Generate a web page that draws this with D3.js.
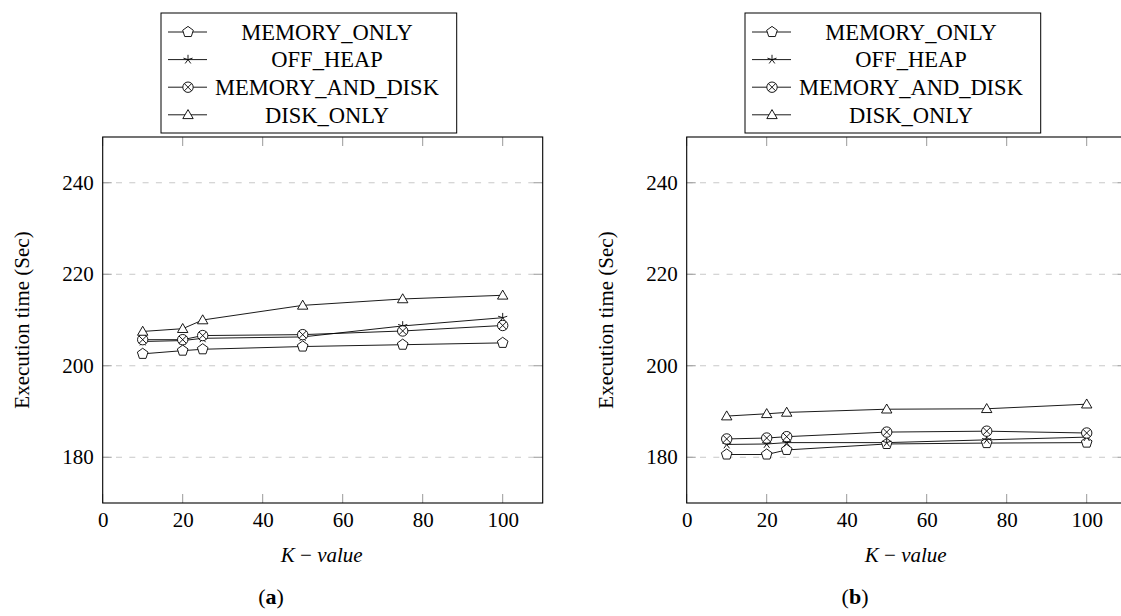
<!DOCTYPE html>
<html><head><meta charset="utf-8">
<script src="https://cdn.jsdelivr.net/npm/d3@7"></script>
<style>
html,body{margin:0;padding:0;background:#fff;}
svg{display:block;}
text{font-family:"Liberation Serif","DejaVu Serif",serif;fill:#000;}
</style></head>
<body>
<svg id="chart" width="1121" height="616"></svg>
<script>
const kValues = [10, 20, 25, 50, 75, 100];
const seriesNames = ["MEMORY_ONLY", "OFF_HEAP", "MEMORY_AND_DISK", "DISK_ONLY"];
const markerTypes = ["pentagon", "star", "otimes", "triangle"];
// Panel (a)
const a_memoryOnly   = [202.6, 203.3, 203.6, 204.2, 204.6, 205.0];
const a_offHeap      = [205.3, 205.5, 206.0, 206.3, 208.7, 210.5];
const a_memoryDisk   = [205.7, 205.7, 206.6, 206.8, 207.6, 208.8];
const a_diskOnly     = [207.5, 208.1, 210.0, 213.2, 214.6, 215.4];
// Panel (b)
const b_memoryOnly   = [180.6, 180.6, 181.6, 182.9, 183.1, 183.2];
const b_offHeap      = [182.8, 182.9, 183.2, 183.2, 183.8, 184.4];
const b_memoryDisk   = [184.0, 184.2, 184.5, 185.5, 185.7, 185.3];
const b_diskOnly     = [189.0, 189.5, 189.8, 190.5, 190.6, 191.6];
const xTicks = [0, 20, 40, 60, 80, 100];
const yTicks = [180, 200, 220, 240];
const xDomain = [0, 110];
const yDomain = [170, 250];
const yLabel = "Execution time (Sec)";
const panelLabels = ["a", "b"];

const panels = [
  {ox: 0, series: [a_memoryOnly, a_offHeap, a_memoryDisk, a_diskOnly], label: panelLabels[0]},
  {ox: 584, series: [b_memoryOnly, b_offHeap, b_memoryDisk, b_diskOnly], label: panelLabels[1]}
];

const svg = d3.select("#chart");

function markerPath(type) {
  const p = d3.path();
  if (type === "pentagon") {
    const r = 5.6;
    for (let i = 0; i < 5; i++) {
      const a = -Math.PI/2 + i * 2*Math.PI/5;
      const x = r*Math.cos(a), y = r*Math.sin(a);
      if (i === 0) p.moveTo(x, y); else p.lineTo(x, y);
    }
    p.closePath();
  } else if (type === "triangle") {
    const r = 6;
    for (let i = 0; i < 3; i++) {
      const a = -Math.PI/2 + i * 2*Math.PI/3;
      const x = r*Math.cos(a), y = r*Math.sin(a) + 0.8;
      if (i === 0) p.moveTo(x, y); else p.lineTo(x, y);
    }
    p.closePath();
  } else if (type === "star") {
    const r = 4.8;
    for (let i = 0; i < 5; i++) {
      const a = -Math.PI/2 + i * 2*Math.PI/5;
      p.moveTo(0, 0); p.lineTo(r*Math.cos(a), r*Math.sin(a));
    }
  } else if (type === "otimes") {
    const r = 5.2;
    p.moveTo(r, 0); p.arc(0, 0, r, 0, 2*Math.PI);
    const d = r*Math.SQRT1_2;
    p.moveTo(-d, -d); p.lineTo(d, d);
    p.moveTo(-d, d); p.lineTo(d, -d);
  }
  return p.toString();
}

function drawMarker(g, type, x, y) {
  g.append("path")
    .attr("d", markerPath(type))
    .attr("transform", `translate(${x},${y})`)
    .attr("fill", type === "star" ? "none" : "#fff")
    .attr("stroke", "#000")
    .attr("stroke-width", 0.9);
}

panels.forEach(panel => {
  const ox = panel.ox;
  const left = 102.7 + ox, right = 542.7 + ox, top = 137, bottom = 503;
  const x = d3.scaleLinear().domain(xDomain).range([left, right]);
  const y = d3.scaleLinear().domain(yDomain).range([bottom, top]);
  const g = svg.append("g");

  // grid lines
  g.selectAll(".grid").data(yTicks).join("line")
    .attr("x1", left).attr("x2", right)
    .attr("y1", d => y(d)).attr("y2", d => y(d))
    .attr("stroke", "#c8c8c8").attr("stroke-width", 1)
    .attr("stroke-dasharray", "6,7.3");

  // ticks (inward, all sides)
  const tk = 9, tcol = "#999";
  xTicks.forEach(t => {
    g.append("line").attr("x1", x(t)).attr("x2", x(t)).attr("y1", bottom).attr("y2", bottom - tk).attr("stroke", tcol).attr("stroke-width", 1);
    g.append("line").attr("x1", x(t)).attr("x2", x(t)).attr("y1", top).attr("y2", top + tk).attr("stroke", tcol).attr("stroke-width", 1);
  });
  yTicks.forEach(t => {
    g.append("line").attr("x1", left).attr("x2", left + tk).attr("y1", y(t)).attr("y2", y(t)).attr("stroke", tcol).attr("stroke-width", 1);
    g.append("line").attr("x1", right).attr("x2", right - tk).attr("y1", y(t)).attr("y2", y(t)).attr("stroke", tcol).attr("stroke-width", 1);
  });

  // axes via d3 (labels only)
  const xAxis = d3.axisBottom(x).tickValues(xTicks).tickSize(0).tickPadding(9);
  const xa = g.append("g").attr("transform", `translate(0,${bottom})`).call(xAxis);
  xa.select(".domain").remove();
  xa.selectAll("text").style("font-size", "21px").style("font-family", "'Liberation Serif',serif").attr("fill", "#000");

  const yAxis = d3.axisLeft(y).tickValues(yTicks).tickSize(0).tickPadding(9);
  const ya = g.append("g").attr("transform", `translate(${left},0)`).call(yAxis);
  ya.select(".domain").remove();
  ya.selectAll("text").style("font-size", "21px").style("font-family", "'Liberation Serif',serif").attr("fill", "#000");

  // box
  g.append("rect").attr("x", left).attr("y", top).attr("width", right - left).attr("height", bottom - top)
    .attr("fill", "none").attr("stroke", "#000").attr("stroke-width", 1.1);

  // series
  const line = d3.line().x((d, i) => x(kValues[i])).y(d => y(d));
  panel.series.forEach((vals, si) => {
    g.append("path").datum(vals).attr("d", line)
      .attr("fill", "none").attr("stroke", "#000").attr("stroke-width", 0.9);
  });
  panel.series.forEach((vals, si) => {
    vals.forEach((v, i) => drawMarker(g, markerTypes[si], x(kValues[i]), y(v)));
  });

  // axis labels
  g.append("text").attr("transform", `translate(${22 + ox},${(top + bottom)/2}) rotate(-90)`)
    .attr("text-anchor", "middle").attr("dominant-baseline", "central")
    .style("font-size", "21px").text(yLabel);

  const xl = g.append("text").attr("x", (left + right)/2 - 1).attr("y", 562)
    .attr("text-anchor", "middle").style("font-size", "21px");
  xl.append("tspan").style("font-style", "italic").text("K");
  xl.append("tspan").text(" \u2212 ");
  xl.append("tspan").style("font-style", "italic").text("value");

  const pl = g.append("text").attr("x", 271 + ox).attr("y", 604)
    .attr("text-anchor", "middle").style("font-size", "22px");
  pl.append("tspan").text("(");
  pl.append("tspan").style("font-weight", "bold").text(panel.label);
  pl.append("tspan").text(")");

  // legend
  const lx0 = 161 + ox, lx1 = 456.7 + ox, ly0 = 13, ly1 = 133;
  g.append("rect").attr("x", lx0).attr("y", ly0).attr("width", lx1 - lx0).attr("height", ly1 - ly0)
    .attr("fill", "#fff").attr("stroke", "#000").attr("stroke-width", 1);
  seriesNames.forEach((name, i) => {
    const cy = 32 + i * 27.6;
    g.append("line").attr("x1", 168 + ox).attr("x2", 207 + ox).attr("y1", cy).attr("y2", cy)
      .attr("stroke", "#000").attr("stroke-width", 0.9);
    drawMarker(g, markerTypes[i], 188 + ox, cy);
    g.append("text").attr("x", 327 + ox).attr("y", cy).attr("dy", "0.35em")
      .attr("text-anchor", "middle").style("font-size", "22.5px").text(name);
  });
});
</script>
</body></html>
